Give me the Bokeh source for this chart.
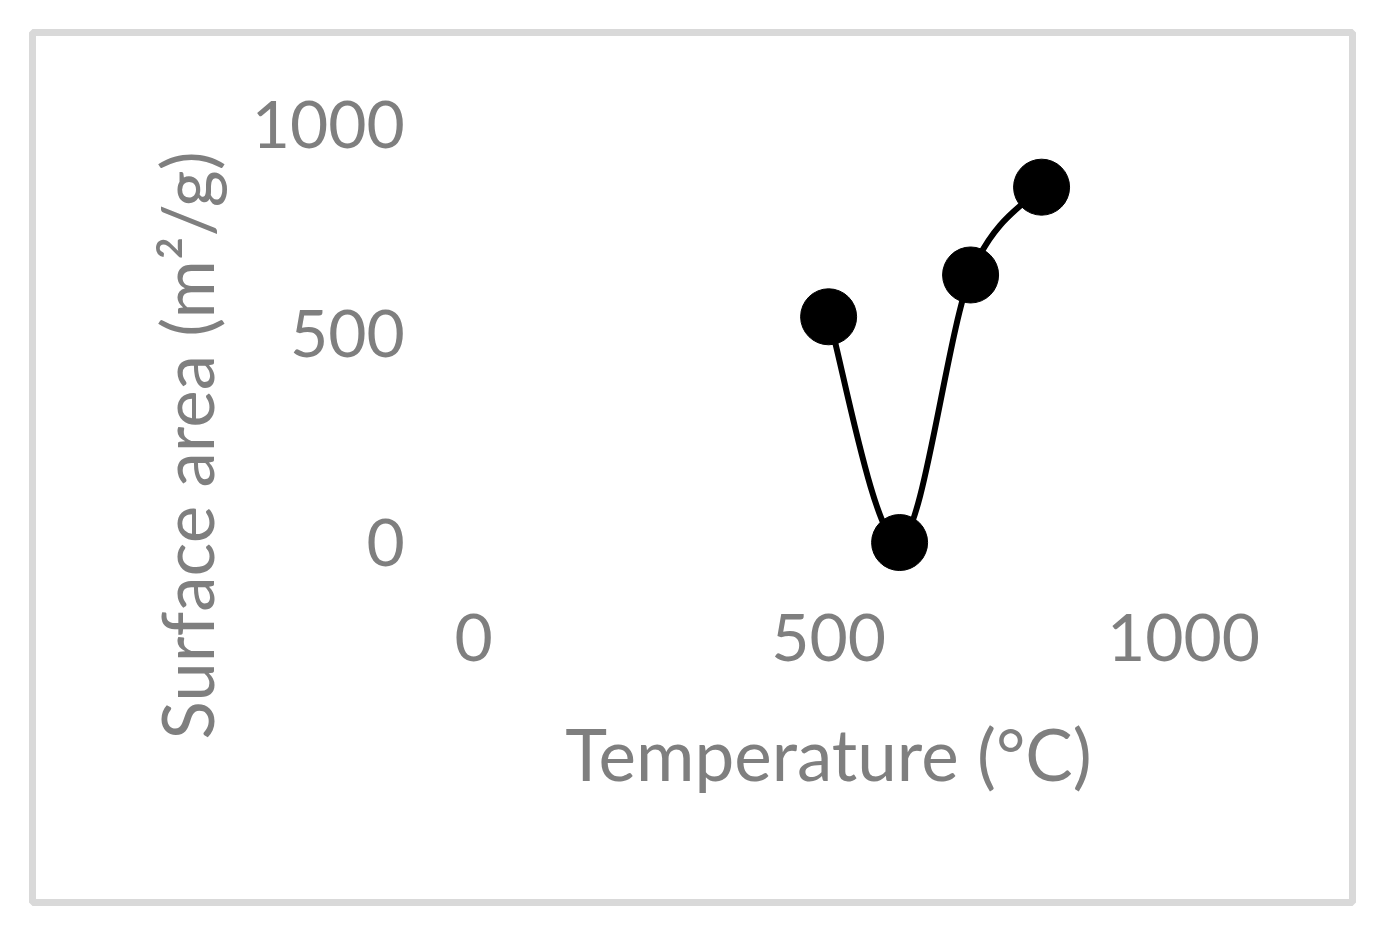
from bokeh.plotting import figure
from bokeh.models import Range1d, FixedTicker, ColumnDataSource
from bokeh.embed import file_html
from bokeh.resources import INLINE

# ---- data ----
temperature = [500, 600, 700, 800]
surface_area = [540, 0, 640, 850]
x_ticks = [0, 500, 1000]
y_ticks = [0, 500, 1000]
x_title = "Temperature (°C)"
y_title = "Surface area (m²/g)"

FONT = "Lato"
GRAY = "#7f7f7f"
FS = "66px"
TFS = "71px"

p = figure(frame_width=1320, frame_height=870,
           min_border_left=32, min_border_right=19, min_border_top=32, min_border_bottom=26,
           x_range=Range1d(-621.5, 1238), y_range=Range1d(-861, 1220),
           output_backend="svg", toolbar_location=None)

p.background_fill_color = "white"
p.border_fill_color = "white"
p.outline_line_color = "#d9d9d9"
p.outline_line_width = 7
p.xgrid.visible = False
p.ygrid.visible = False

for ax in (p.xaxis[0], p.yaxis[0]):
    ax.axis_line_color = None
    ax.major_tick_line_color = None
    ax.minor_tick_line_color = None
    ax.major_tick_out = 0
    ax.major_tick_in = 0
    ax.minor_tick_out = 0
    ax.minor_tick_in = 0
    ax.major_label_standoff = 0
    ax.major_label_text_font = FONT
    ax.major_label_text_font_size = FS
    ax.major_label_text_color = GRAY
    ax.axis_label_text_font = FONT
    ax.axis_label_text_font_size = TFS
    ax.axis_label_text_color = GRAY
    ax.axis_label_text_font_style = "normal"

p.xaxis.ticker = FixedTicker(ticks=x_ticks)
p.yaxis.ticker = FixedTicker(ticks=y_ticks)
p.xaxis.axis_label = x_title
p.yaxis.axis_label = y_title
p.xaxis.fixed_location = -172
p.yaxis.fixed_location = -97
p.xaxis.bounds = (-100, 1100)
p.yaxis.bounds = (-600, 1064)
p.xaxis.axis_label_standoff = 46
p.yaxis.axis_label_standoff = 19

# smoothed line (Catmull-Rom style Bezier segments computed from the data)
n = len(temperature)
x0, y0, x1, y1, cx0, cy0, cx1, cy1 = ([] for _ in range(8))
for i in range(n - 1):
    im1 = max(i - 1, 0)
    ip2 = min(i + 2, n - 1)
    x0.append(temperature[i]); y0.append(surface_area[i])
    x1.append(temperature[i + 1]); y1.append(surface_area[i + 1])
    cx0.append(temperature[i] + (temperature[i + 1] - temperature[im1]) / 6)
    cy0.append(surface_area[i] + (surface_area[i + 1] - surface_area[im1]) / 6)
    cx1.append(temperature[i + 1] - (temperature[ip2] - temperature[i]) / 6)
    cy1.append(surface_area[i + 1] - (surface_area[ip2] - surface_area[i]) / 6)

bsrc = ColumnDataSource(dict(x0=x0, y0=y0, x1=x1, y1=y1, cx0=cx0, cy0=cy0, cx1=cx1, cy1=cy1))
p.bezier(x0="x0", y0="y0", x1="x1", y1="y1", cx0="cx0", cy0="cy0", cx1="cx1", cy1="cy1",
         source=bsrc, line_color="black", line_width=6)

src = ColumnDataSource(dict(x=temperature, y=surface_area))
p.scatter(x="x", y="y", source=src, size=56, marker="circle",
          fill_color="black", line_color="black")

open("out.html", "w").write(file_html(p, INLINE))
